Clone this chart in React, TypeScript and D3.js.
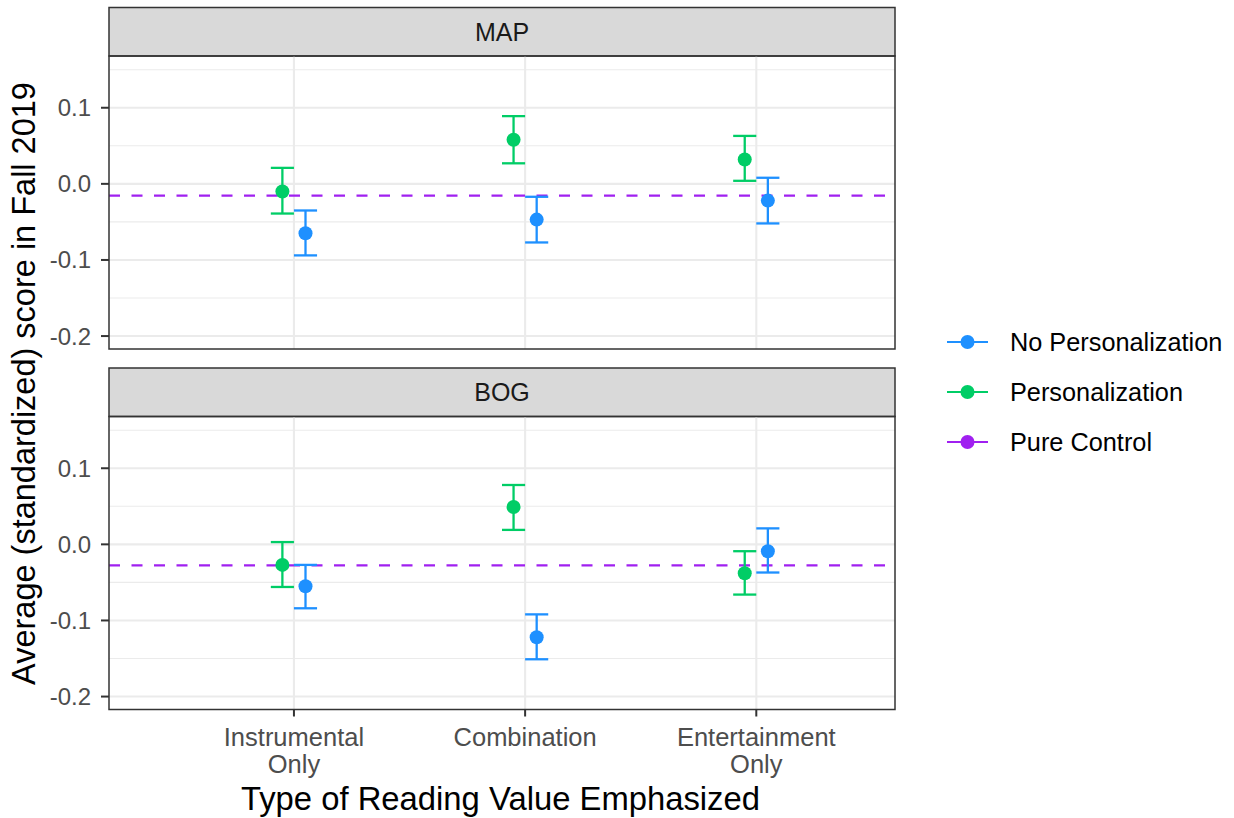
import React from "react";
import * as d3 from "d3";

const categories = ["Instrumental\nOnly", "Combination", "Entertainment\nOnly"];
const panels = ["MAP", "BOG"];
const groups = ["No Personalization", "Personalization"];
const groupColors = ["#1E90FF", "#00CD66"];
const controlColor = "#A020F0";
const legendLabels = ["No Personalization", "Personalization", "Pure Control"];

// MAP panel values
const mapPersEst = [-0.010, 0.058, 0.032];
const mapPersLo = [-0.039, 0.027, 0.004];
const mapPersHi = [0.021, 0.089, 0.063];
const mapNoPersEst = [-0.065, -0.047, -0.022];
const mapNoPersLo = [-0.094, -0.077, -0.052];
const mapNoPersHi = [-0.035, -0.017, 0.008];
const mapControl = -0.0155;

// BOG panel values
const bogPersEst = [-0.027, 0.049, -0.038];
const bogPersLo = [-0.056, 0.019, -0.066];
const bogPersHi = [0.003, 0.078, -0.009];
const bogNoPersEst = [-0.055, -0.122, -0.009];
const bogNoPersLo = [-0.084, -0.151, -0.037];
const bogNoPersHi = [-0.027, -0.092, 0.021];
const bogControl = -0.0275;

const yTicks = [0.1, 0.0, -0.1, -0.2];
const yMinor = [0.15, 0.05, -0.05, -0.15];

const panelData = [
  {
    name: panels[0],
    control: mapControl,
    series: [
      { est: mapNoPersEst, lo: mapNoPersLo, hi: mapNoPersHi },
      { est: mapPersEst, lo: mapPersLo, hi: mapPersHi },
    ],
  },
  {
    name: panels[1],
    control: bogControl,
    series: [
      { est: bogNoPersEst, lo: bogNoPersLo, hi: bogNoPersHi },
      { est: bogPersEst, lo: bogPersLo, hi: bogPersHi },
    ],
  },
];

const FONT = "'Liberation Sans', Arial, sans-serif";
const fmt = (v: number) => d3.format(".1f")(v).replace("\u2212", "-");

export default function App() {
  const W = 1234;
  const H = 818;
  const left = 109;
  const right = 895;
  const panelTops = [56, 416.5];
  const panelH = 293;
  const stripH = 48.5;

  const x = d3.scaleLinear().domain([0.2, 3.6]).range([left, right]);
  const dodge = [0.05, -0.05]; // blue right, green left
  const capHalf = 0.05;

  return (
    <svg
      width={W}
      height={H}
      style={{ position: "absolute", left: 0, top: 0, background: "#fff" }}
      fontFamily={FONT}
    >
      <rect x={0} y={0} width={W} height={H} fill="#fff" />
      {panelData.map((p, pi) => {
        const top = panelTops[pi];
        const bottom = top + panelH;
        const y = d3.scaleLinear().domain([0.168, -0.217]).range([top, bottom]);
        return (
          <g key={p.name}>
            {/* strip */}
            <rect
              x={left}
              y={top - stripH}
              width={right - left}
              height={stripH}
              fill="#D9D9D9"
              stroke="#333333"
              strokeWidth={1.5}
            />
            <text
              x={(left + right) / 2}
              y={top - stripH / 2}
              textAnchor="middle"
              dominantBaseline="central"
              fontSize={25}
              fill="#1A1A1A"
            >
              {p.name}
            </text>
            {/* grid */}
            {yMinor.map((v) => (
              <line key={"mi" + v} x1={left} x2={right} y1={y(v)} y2={y(v)} stroke="#EBEBEB" strokeWidth={1.1} />
            ))}
            {yTicks.map((v) => (
              <line key={"ma" + v} x1={left} x2={right} y1={y(v)} y2={y(v)} stroke="#EBEBEB" strokeWidth={2.1} />
            ))}
            {categories.map((c, i) => (
              <line key={"vx" + i} x1={x(i + 1)} x2={x(i + 1)} y1={top} y2={bottom} stroke="#EBEBEB" strokeWidth={2.1} />
            ))}
            {/* pure control */}
            <line
              x1={left}
              x2={right}
              y1={y(p.control)}
              y2={y(p.control)}
              stroke={controlColor}
              strokeWidth={2.2}
              strokeDasharray="11 11.5"
            />
            {/* error bars and points */}
            {p.series.map((s, si) =>
              s.est.map((e, ci) => {
                const cx = x(ci + 1 + dodge[si]);
                const col = groupColors[si];
                return (
                  <g key={`${si}-${ci}`}>
                    <line x1={cx} x2={cx} y1={y(s.lo[ci])} y2={y(s.hi[ci])} stroke={col} strokeWidth={2.3} />
                    <line
                      x1={x(ci + 1 + dodge[si] - capHalf)}
                      x2={x(ci + 1 + dodge[si] + capHalf)}
                      y1={y(s.lo[ci])}
                      y2={y(s.lo[ci])}
                      stroke={col}
                      strokeWidth={2.3}
                    />
                    <line
                      x1={x(ci + 1 + dodge[si] - capHalf)}
                      x2={x(ci + 1 + dodge[si] + capHalf)}
                      y1={y(s.hi[ci])}
                      y2={y(s.hi[ci])}
                      stroke={col}
                      strokeWidth={2.3}
                    />
                    <circle cx={cx} cy={y(e)} r={7} fill={col} />
                  </g>
                );
              })
            )}
            {/* border */}
            <rect x={left} y={top} width={right - left} height={panelH} fill="none" stroke="#333333" strokeWidth={1.5} />
            {/* y axis ticks */}
            {yTicks.map((v) => (
              <g key={"yt" + v}>
                <line x1={left - 8} x2={left} y1={y(v)} y2={y(v)} stroke="#333333" strokeWidth={2} />
                <text
                  x={left - 18}
                  y={y(v)}
                  textAnchor="end"
                  dominantBaseline="central"
                  fontSize={24}
                  fill="#4D4D4D"
                >
                  {fmt(v)}
                </text>
              </g>
            ))}
            {/* x axis ticks on bottom panel */}
            {pi === 1 &&
              categories.map((c, i) => (
                <g key={"xt" + i}>
                  <line x1={x(i + 1)} x2={x(i + 1)} y1={bottom} y2={bottom + 7} stroke="#333333" strokeWidth={2} />
                  {c.split("\n").map((ln, li) => (
                    <text
                      key={li}
                      x={x(i + 1)}
                      y={746 + li * 27}
                      textAnchor="middle"
                      fontSize={25.5}
                      fill="#4D4D4D"
                    >
                      {ln}
                    </text>
                  ))}
                </g>
              ))}
          </g>
        );
      })}
      {/* axis titles */}
      <text x={500.5} y={810} textAnchor="middle" fontSize={32.8} fill="#000">
        Type of Reading Value Emphasized
      </text>
      <text
        transform={`translate(35, ${383.5}) rotate(-90)`}
        textAnchor="middle"
        fontSize={32.5}
        fill="#000"
      >
        Average (standardized) score in Fall 2019
      </text>
      {/* legend */}
      {legendLabels.map((lab, i) => {
        const ly = 342 + i * 50;
        const col = i < 2 ? groupColors[i] : controlColor;
        return (
          <g key={lab}>
            <line x1={947} x2={988} y1={ly} y2={ly} stroke={col} strokeWidth={2.2} />
            <circle cx={967.5} cy={ly} r={7} fill={col} />
            <text x={1010} y={ly} dominantBaseline="central" fontSize={25.3} fill="#000">
              {lab}
            </text>
          </g>
        );
      })}
    </svg>
  );
}
